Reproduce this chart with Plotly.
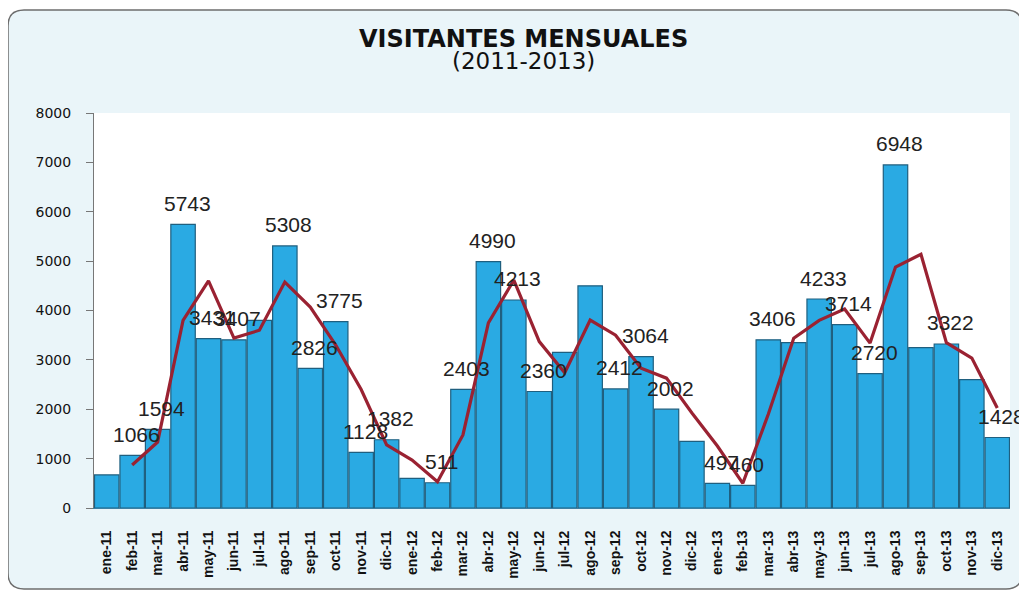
import plotly.graph_objects as go

months = ["ene-11","feb-11","mar-11","abr-11","may-11","jun-11","jul-11","ago-11","sep-11","oct-11","nov-11","dic-11",
          "ene-12","feb-12","mar-12","abr-12","may-12","jun-12","jul-12","ago-12","sep-12","oct-12","nov-12","dic-12",
          "ene-13","feb-13","mar-13","abr-13","may-13","jun-13","jul-13","ago-13","sep-13","oct-13","nov-13","dic-13"]

visitors = [670, 1066, 1594, 5743, 3431, 3407, 3800, 5308, 2826, 3775, 1128, 1382,
            600, 511, 2403, 4990, 4213, 2360, 3150, 4500, 2412, 3064, 2002, 1350,
            497, 460, 3406, 3350, 4233, 3714, 2720, 6948, 3250, 3322, 2600, 1428]

# data labels shown in the chart (empty = no label)
labels = ["", "1066", "1594", "5743", "3431", "3407", "", "5308", "2826", "3775", "1128", "1382",
          "", "511", "2403", "4990", "4213", "2360", "", "", "2412", "3064", "2002", "",
          "497", "460", "3406", "", "4233", "3714", "2720", "6948", "", "3322", "", "1428"]

# trend line (2-period moving average) as drawn
trend_months = months[1:]
trend = [870, 1336, 3800, 4600, 3440, 3600, 4575, 4070, 3300, 2400, 1280,
         970, 530, 1480, 3750, 4615, 3370, 2740, 3806, 3500, 2830, 2630, 1923,
         1255, 500, 1900, 3440, 3800, 4030, 3340, 4880, 5140, 3350, 3036, 2024]

y_ticks = [0, 1000, 2000, 3000, 4000, 5000, 6000, 7000, 8000]

# page has an 8px body margin: figure coords = page coords - 8
OFF = 8
W, H = 1027 - OFF, 594 - OFF
L, R, T, B = 94 - OFF, 17, 113 - OFF, 86
pw, ph = W - L - R, H - T - B

def px_x(x):
    return (x - OFF - L) / pw

def px_y(y):
    return (H - B - (y - OFF)) / ph

fig = go.Figure()
fig.add_trace(go.Bar(
    x=months, y=visitors,
    marker=dict(color="#2aaae3", line=dict(color="#1f5f7f", width=1.2)),
    hoverinfo="x+y", showlegend=False,
))
fig.add_trace(go.Scatter(
    x=trend_months, y=trend, mode="lines",
    line=dict(color="#9a2232", width=3.2),
    showlegend=False,
))

for m, v, t in zip(months, visitors, labels):
    if t:
        fig.add_annotation(x=m, y=v, text=t, showarrow=False, xref="x", yref="y",
                           yshift=21, xshift=4,
                           font=dict(family="Liberation Sans, Arial", size=21, color="#222222"))

# titles
fig.add_annotation(x=px_x(523), y=px_y(39), xref="paper", yref="paper", text="<b>VISITANTES MENSUALES</b>",
                   showarrow=False, yanchor="middle", xanchor="center",
                   font=dict(family="DejaVu Sans", size=24, color="#111111"))
fig.add_annotation(x=px_x(523), y=px_y(61), xref="paper", yref="paper", text="(2011-2013)",
                   showarrow=False, yanchor="middle", xanchor="center",
                   font=dict(family="DejaVu Sans", size=23, color="#111111"))

# background panel with rounded corners
x0, x1 = px_x(8), px_x(1022)
y0, y1 = px_y(589), px_y(10)
rx, ry = 16 / pw, 16 / ph
path = (f"M {x0+rx},{y1} L {x1-rx},{y1} Q {x1},{y1} {x1},{y1-ry} L {x1},{y0+ry} Q {x1},{y0} {x1-rx},{y0} "
        f"L {x0+rx},{y0} Q {x0},{y0} {x0},{y0+ry} L {x0},{y1-ry} Q {x0},{y1} {x0+rx},{y1} Z")
fig.add_shape(type="path", path=path, xref="paper", yref="paper", layer="below",
              fillcolor="#eaf5f9", line=dict(color="#6d6d6d", width=1.5))
fig.add_shape(type="rect", x0=0, x1=1, y0=0, y1=1, xref="paper", yref="paper", layer="below",
              fillcolor="#ffffff", line=dict(width=0))

fig.update_layout(
    width=W, height=H,
    margin=dict(l=L, r=R, t=T, b=B),
    paper_bgcolor="#ffffff",
    plot_bgcolor="rgba(0,0,0,0)",
    bargap=0.04,
    font=dict(family="Liberation Sans, Arial", color="#111111"),
)
fig.update_xaxes(
    type="category", range=[-0.5, 35.5],
    tickangle=-90, tickfont=dict(family="Liberation Sans, Arial", size=14, color="#111111"),
    showline=True, linecolor="#3b7fa3", linewidth=1,
    ticks="", ticklabelstandoff=16, showgrid=False,
    tickprefix="<b>", ticksuffix="</b>",
)
fig.update_yaxes(
    range=[0, 8000], tickvals=y_ticks,
    tickfont=dict(family="DejaVu Sans", size=14, color="#111111"),
    tickprefix="<b>", ticksuffix="</b>",
    showline=True, linecolor="#777777", linewidth=1,
    ticks="outside", ticklen=7, tickcolor="#777777", ticklabelstandoff=12,
    showgrid=False, zeroline=False,
)

fig.write_html("out.html")
